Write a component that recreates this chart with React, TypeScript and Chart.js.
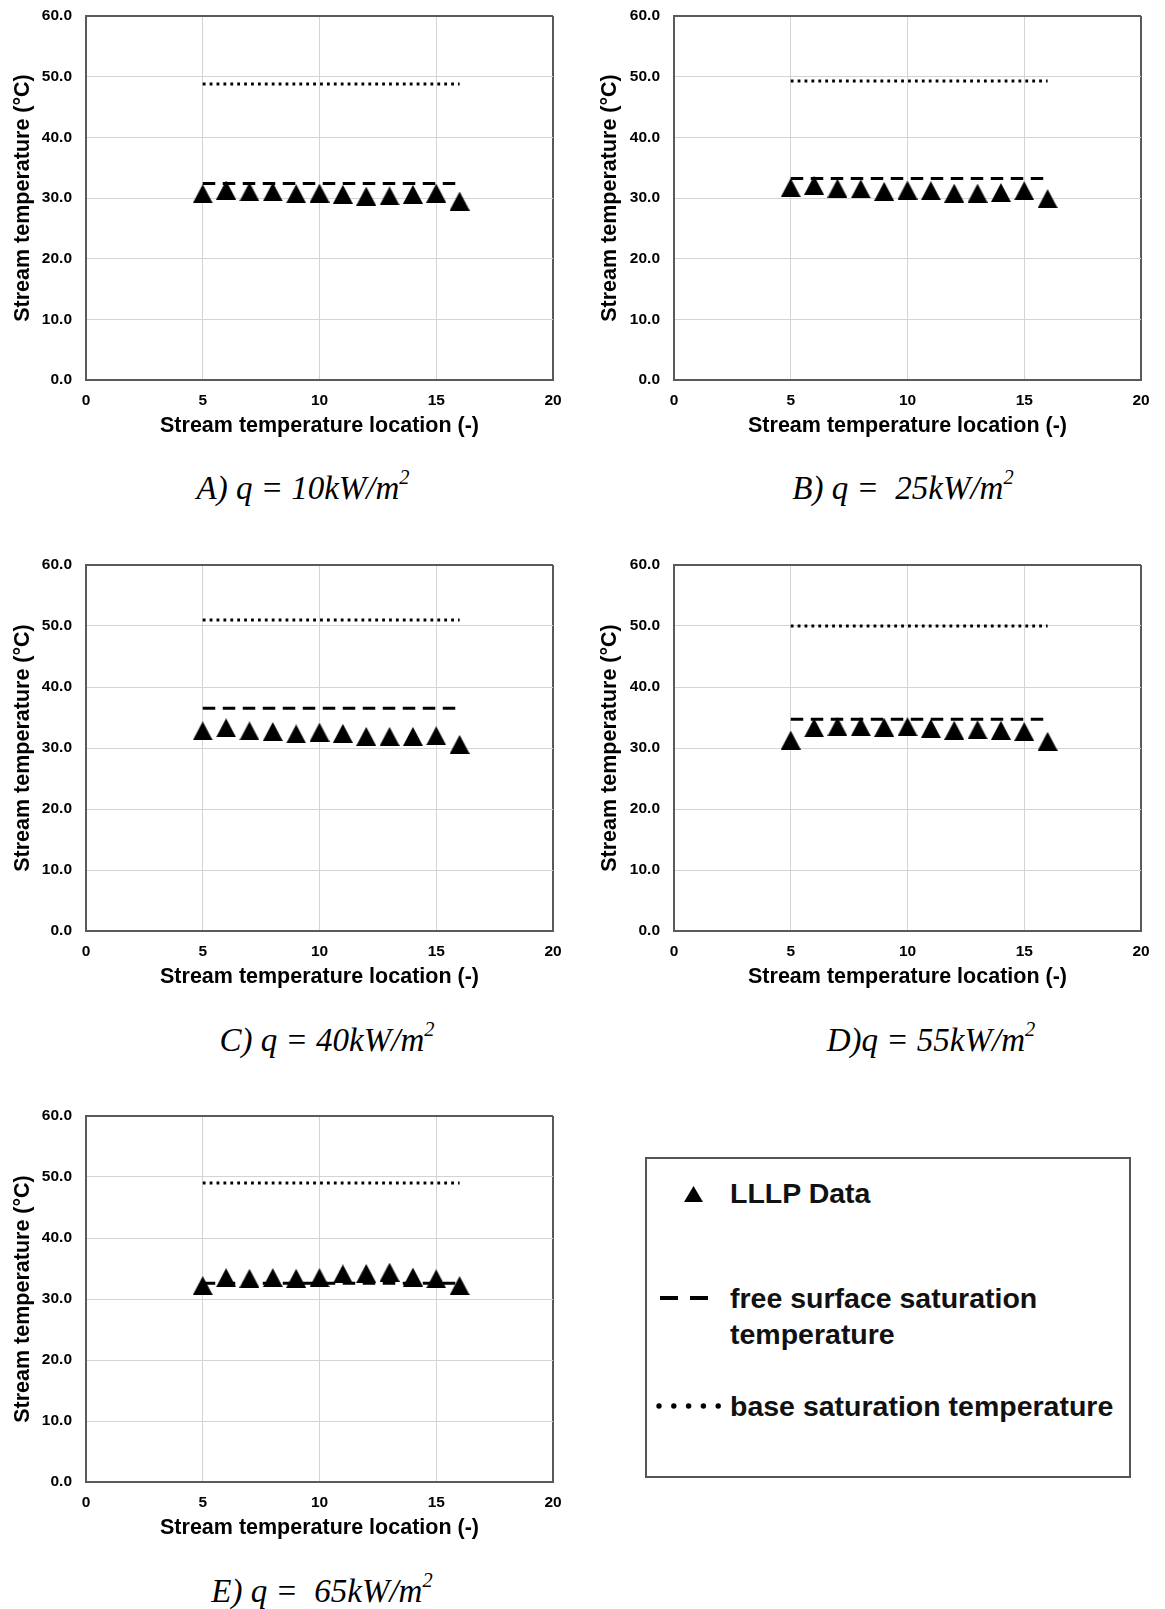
import React, { useEffect, useRef } from "react";
import { Chart, registerables } from "chart.js";
Chart.register(...registerables);

// ---------- data ----------
const LOCATIONS = [5, 6, 7, 8, 9, 10, 11, 12, 13, 14, 15, 16];
const LINE_X = [5, 16];
const X_TICK_STEP = 5;
const Y_TICK_STEP = 10;
const X_MAX = 20;
const Y_MAX = 60;

const LLLP_A = [30.7, 31.3, 31.0, 31.0, 30.7, 30.8, 30.6, 30.3, 30.35, 30.6, 30.8, 29.5];
const LLLP_B = [31.7, 32.1, 31.6, 31.5, 31.1, 31.3, 31.2, 30.8, 30.8, 30.9, 31.2, 29.9];
const LLLP_C = [32.8, 33.3, 32.8, 32.7, 32.3, 32.6, 32.4, 31.9, 31.9, 31.9, 32.0, 30.6];
const LLLP_D = [31.3, 33.3, 33.5, 33.5, 33.4, 33.5, 33.2, 32.9, 33.0, 32.9, 32.7, 31.1];
const LLLP_E = [32.2, 33.5, 33.4, 33.5, 33.4, 33.5, 34.1, 34.2, 34.4, 33.6, 33.3, 32.2];

const FREE_SURFACE = [32.4, 33.2, 36.5, 34.7, 32.6];
const BASE_SAT = [48.8, 49.3, 51.0, 50.0, 49.0];

const CAPTIONS = ["A) q = 10kW/m", "B) q =  25kW/m", "C) q = 40kW/m", "D)q = 55kW/m", "E) q =  65kW/m"];

const X_TITLE = "Stream temperature location (-)";
const Y_TITLE = "Stream temperature (\u00B0C)";
const LEGEND_LABELS = ["LLLP Data", "free surface saturation\ntemperature", "base saturation temperature"];

// ---------- styling ----------
const SANS = '"Liberation Sans", Arial, sans-serif';
const SERIF = '"Liberation Serif", "Times New Roman", serif';
const GRID = "#d4d4d4";
const FRAME = "#5a5a5a";
const INK = "#000";

function makeTriangle(w: number, h: number) {
  const c = document.createElement("canvas");
  c.width = w;
  c.height = h;
  const g = c.getContext("2d")!;
  g.fillStyle = "#000";
  g.beginPath();
  g.moveTo(w / 2, 0);
  g.lineTo(w, h);
  g.lineTo(0, h);
  g.closePath();
  g.fill();
  return c;
}

type PanelProps = {
  lllp: number[];
  free: number;
  base: number;
  left: number;
  top: number;
  height: number;
  yTitleCenter: number;
};

const CANVAS_W = 575;
const Y_AXIS_W = 86;
const X_AXIS_H = 60;

function Panel({ lllp, free, base, left, top, height, yTitleCenter }: PanelProps) {
  const ref = useRef<HTMLCanvasElement | null>(null);
  useEffect(() => {
    if (!ref.current) return;
    const tri = makeTriangle(20, 19);
    const tickFont = { family: SANS, size: 15.5, weight: "bold" as const };
    const titleFont = { family: SANS, size: 21.5, weight: "bold" as const };
    const yTitleLH = 21.5 * 1.2;
    const chart = new Chart(ref.current, {
      type: "scatter",
      data: {
        datasets: [
          {
            label: "LLLP Data",
            data: LOCATIONS.map((x, i) => ({ x, y: lllp[i] })),
            pointStyle: tri as any,
            pointRadius: 10,
            backgroundColor: "#000",
            borderColor: "#000",
            showLine: false,
            order: 0,
          },
          {
            label: "free surface saturation temperature",
            data: LINE_X.map((x) => ({ x, y: free })),
            showLine: true,
            borderColor: "#000",
            borderWidth: 3,
            borderDash: [12.5, 7.5],
            pointRadius: 0,
            order: 1,
          },
          {
            label: "base saturation temperature",
            data: LINE_X.map((x) => ({ x, y: base })),
            showLine: true,
            borderColor: "#000",
            borderWidth: 3,
            borderDash: [2.8, 4.1],
            pointRadius: 0,
            order: 2,
          },
        ],
      },
      options: {
        responsive: false,
        animation: false,
        layout: { padding: { top: 16, right: 22, left: 0, bottom: 0 } },
        plugins: { legend: { display: false }, tooltip: { enabled: false } },
        scales: {
          x: {
            type: "linear",
            min: 0,
            max: X_MAX,
            afterFit: (s: any) => {
              s.height = X_AXIS_H;
              s.paddingLeft = 0;
              s.paddingRight = 0;
            },
            ticks: { stepSize: X_TICK_STEP, color: INK, font: tickFont, padding: 11 },
            grid: {
              drawTicks: false,
              color: (c: any) => (c.tick && c.tick.value === X_MAX ? FRAME : GRID),
              lineWidth: (c: any) => (c.tick && c.tick.value === X_MAX ? 2 : 1),
            },
            border: { display: true, color: FRAME, width: 2 },
            title: { display: true, text: X_TITLE, color: INK, font: titleFont, padding: { top: 0, bottom: 1 } },
          },
          y: {
            type: "linear",
            min: 0,
            max: Y_MAX,
            afterFit: (s: any) => {
              s.width = Y_AXIS_W;
              s.paddingTop = 0;
              s.paddingBottom = 0;
            },
            ticks: {
              stepSize: Y_TICK_STEP,
              color: INK,
              font: tickFont,
              padding: 14,
              callback: (v: any) => Number(v).toFixed(1),
            },
            grid: {
              drawTicks: false,
              color: (c: any) => (c.tick && c.tick.value === Y_MAX ? FRAME : GRID),
              lineWidth: (c: any) => (c.tick && c.tick.value === Y_MAX ? 2 : 1),
            },
            border: { display: true, color: FRAME, width: 2 },
            title: {
              display: true,
              text: Y_TITLE,
              color: INK,
              font: titleFont,
              padding: { top: yTitleCenter - yTitleLH / 2, bottom: 0 },
            },
          },
        },
      },
    });
    return () => chart.destroy();
  }, [lllp, free, base, yTitleCenter]);
  return (
    <canvas
      ref={ref}
      width={CANVAS_W}
      height={height}
      style={{ position: "absolute", left, top, width: CANVAS_W, height }}
    />
  );
}

function Caption({ text, cx, cy }: { text: string; cx: number; cy: number }) {
  return (
    <div
      style={{
        position: "absolute",
        left: cx - 200,
        top: cy - 20,
        width: 400,
        textAlign: "center",
        fontFamily: SERIF,
        fontStyle: "italic",
        fontSize: 33,
        lineHeight: "40px",
        whiteSpace: "pre",
        color: "#000",
      }}
    >
      {text}
      <sup style={{ fontSize: "0.62em", lineHeight: 0, verticalAlign: "0.75em" }}>2</sup>
    </div>
  );
}

function Legend() {
  const textStyle: React.CSSProperties = {
    position: "absolute",
    left: 730,
    fontFamily: SANS,
    fontWeight: "bold",
    fontSize: 28.5,
    lineHeight: "36px",
    color: "#111",
    whiteSpace: "pre",
  };
  const dots = [0, 1, 2, 3, 4];
  return (
    <>
      <div
        style={{
          position: "absolute",
          left: 645,
          top: 1157,
          width: 486,
          height: 321,
          border: "2px solid #555",
          boxSizing: "border-box",
        }}
      />
      <svg style={{ position: "absolute", left: 684, top: 1186 }} width={19} height={16}>
        <polygon points="9.5,0 19,16 0,16" fill="#000" />
      </svg>
      <div style={{ ...textStyle, top: 1175 }}>{LEGEND_LABELS[0]}</div>
      <svg style={{ position: "absolute", left: 658, top: 1294 }} width={54} height={8}>
        <rect x={2} y={2} width={18} height={4} fill="#000" />
        <rect x={32} y={2} width={18} height={4} fill="#000" />
      </svg>
      <div style={{ ...textStyle, top: 1280 }}>{LEGEND_LABELS[1]}</div>
      <svg style={{ position: "absolute", left: 655, top: 1400 }} width={68} height={10}>
        {dots.map((d) => (
          <circle key={d} cx={4 + d * 14.8} cy={6} r={2.7} fill="#000" />
        ))}
      </svg>
      <div style={{ ...textStyle, top: 1388 }}>{LEGEND_LABELS[2]}</div>
    </>
  );
}

export default function App() {
  return (
    <div style={{ position: "absolute", left: 0, top: 0, width: 1165, height: 1609, background: "#fff" }}>
      <Panel lllp={LLLP_A} free={FREE_SURFACE[0]} base={BASE_SAT[0]} left={0} top={0} height={440} yTitleCenter={23} />
      <Panel lllp={LLLP_B} free={FREE_SURFACE[1]} base={BASE_SAT[1]} left={588} top={0} height={440} yTitleCenter={22} />
      <Panel lllp={LLLP_C} free={FREE_SURFACE[2]} base={BASE_SAT[2]} left={0} top={549} height={442} yTitleCenter={23} />
      <Panel lllp={LLLP_D} free={FREE_SURFACE[3]} base={BASE_SAT[3]} left={588} top={549} height={442} yTitleCenter={22} />
      <Panel lllp={LLLP_E} free={FREE_SURFACE[4]} base={BASE_SAT[4]} left={0} top={1100} height={442} yTitleCenter={23} />
      <Caption text={CAPTIONS[0]} cx={303} cy={488} />
      <Caption text={CAPTIONS[1]} cx={903} cy={488} />
      <Caption text={CAPTIONS[2]} cx={327} cy={1040} />
      <Caption text={CAPTIONS[3]} cx={931} cy={1040} />
      <Caption text={CAPTIONS[4]} cx={322} cy={1591} />
      <Legend />
    </div>
  );
}
